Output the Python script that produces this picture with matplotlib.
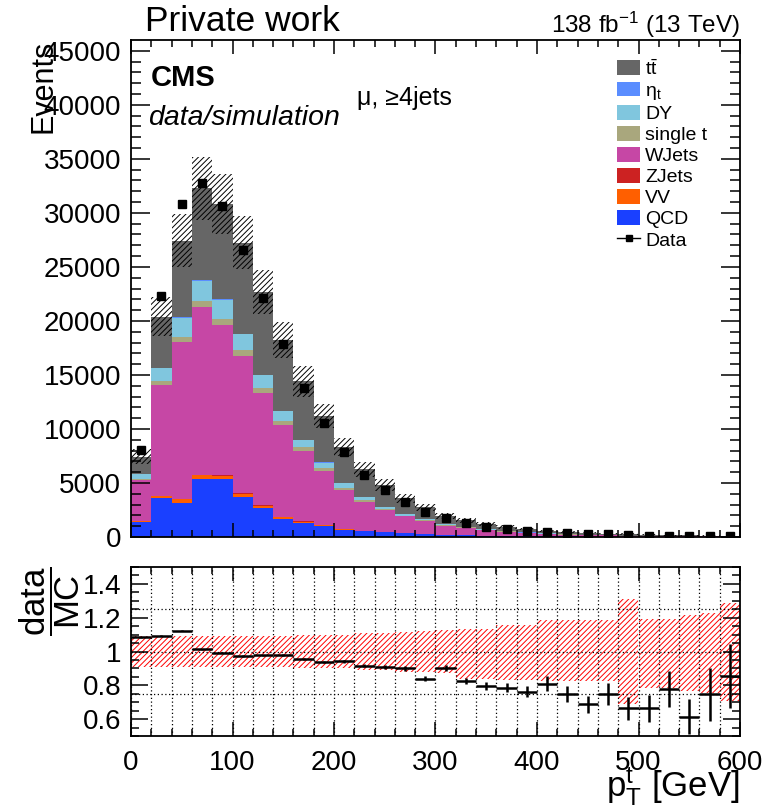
import numpy as np
import matplotlib
matplotlib.use("Agg")
import matplotlib.pyplot as plt
from matplotlib.patches import Patch
from matplotlib.lines import Line2D

plt.rcParams['font.family'] = ['Liberation Sans', 'DejaVu Sans']
plt.rcParams['mathtext.fontset'] = 'custom'
plt.rcParams['mathtext.rm'] = 'Liberation Sans'
plt.rcParams['mathtext.it'] = 'Liberation Sans:italic'
plt.rcParams['mathtext.bf'] = 'Liberation Sans:bold'
plt.rcParams['hatch.linewidth'] = 0.7

# binning: 30 bins of 20 GeV
edges = np.arange(0, 620, 20)

# stacked MC components (events per bin), bottom -> top
qcd = [1420, 3580, 3180, 5370, 5340, 3700, 2710, 1670, 1300, 1020, 650, 540, 430, 340, 250,
       190, 150, 120, 95, 75, 60, 50, 40, 32, 26, 22, 18, 15, 12, 10]
vv = [60, 200, 320, 330, 300, 300, 180, 140, 110, 85, 80, 45, 40, 30, 25,
      20, 16, 13, 10, 8, 7, 6, 5, 4, 3, 3, 2, 2, 2, 1]
zjets = [20, 40, 60, 60, 55, 50, 40, 30, 25, 20, 15, 12, 10, 8, 6,
         5, 4, 3, 3, 2, 2, 2, 1, 1, 1, 1, 1, 1, 1, 1]
wjets = [3800, 10260, 14530, 15510, 13940, 12710, 10430, 8530, 6530, 4990, 3600, 2670, 2020, 1540, 1240,
         835, 690, 515, 380, 285, 230, 170, 135, 105, 80, 65, 55, 42, 35, 28]
single_t = [40, 370, 460, 580, 560, 560, 470, 370, 340, 250, 220, 160, 90, 70, 60,
            45, 38, 30, 24, 19, 15, 12, 10, 8, 7, 6, 5, 4, 3, 3]
dy = [490, 1170, 1750, 1880, 1730, 1450, 1140, 900, 680, 520, 400, 240, 160, 110, 90,
      70, 55, 42, 33, 26, 20, 16, 13, 10, 8, 7, 6, 5, 4, 3]
eta_t = [15, 40, 60, 70, 65, 55, 45, 35, 28, 22, 16, 12, 9, 7, 5,
         4, 3, 3, 2, 2, 1, 1, 1, 1, 1, 1, 1, 1, 1, 1]
ttbar = [1600, 4740, 7080, 8490, 8860, 8430, 7650, 6570, 5410, 4300, 3370, 2590, 2060, 1480, 1090,
         770, 615, 475, 400, 325, 245, 230, 195, 150, 125, 95, 85, 70, 60, 55]

data = [8080, 22320, 30790, 32740, 30590, 26540, 22160, 17840, 13790, 10530, 7860, 5740, 4390, 3230, 2320,
        1750, 1300, 955, 745, 565, 470, 365, 275, 232, 167, 133, 135, 86, 88, 87]
# data/MC error bars
ratio_err = [0.003, 0.003, 0.003, 0.003, 0.003, 0.004, 0.004, 0.005, 0.006, 0.007, 0.008, 0.01, 0.012, 0.014, 0.014,
             0.017, 0.018, 0.022, 0.028, 0.032, 0.044, 0.048, 0.05, 0.065, 0.068, 0.08, 0.107, 0.103, 0.155, 0.19]
# relative MC uncertainty (up / down)
unc_up = [0.09, 0.09, 0.09, 0.09, 0.09, 0.09, 0.09, 0.09, 0.1, 0.1, 0.1, 0.11, 0.11, 0.115, 0.12,
          0.125, 0.135, 0.135, 0.155, 0.155, 0.185, 0.185, 0.185, 0.185, 0.31, 0.195, 0.195, 0.215, 0.225, 0.285]
unc_dn = [0.09, 0.09, 0.09, 0.09, 0.09, 0.09, 0.09, 0.09, 0.1, 0.1, 0.1, 0.11, 0.11, 0.12, 0.12,
          0.125, 0.16, 0.16, 0.17, 0.17, 0.175, 0.175, 0.175, 0.175, 0.31, 0.215, 0.215, 0.235, 0.245, 0.29]

samples = [
    ("QCD", qcd, "#1a40ff"),
    ("VV", vv, "#ff5f00"),
    ("ZJets", zjets, "#cc2222"),
    ("WJets", wjets, "#c647a5"),
    ("single t", single_t, "#a9a77d"),
    ("DY", dy, "#80c6de"),
    (r"$\mathrm{\eta_{t}}$", eta_t, "#5a8dff"),
    (r"$\mathrm{t\bar{t}}$", ttbar, "#666666"),
]

centers = 0.5 * (edges[:-1] + edges[1:])
width = edges[1] - edges[0]

fig = plt.figure(figsize=(7.65, 8.1), dpi=100)
W, H = 765., 810.
ax = fig.add_axes([131/W, 1-537/H, (740-131)/W, (537-40)/H])
rax = fig.add_axes([131/W, 1-736/H, (740-131)/W, (736-567)/H])

bottom = np.zeros(len(centers))
for name, vals, col in samples:
    vals = np.array(vals, dtype=float)
    ax.stairs(bottom + vals, edges, baseline=bottom, fill=True, color=col, lw=0)
    bottom = bottom + vals
total = bottom

up = np.array(unc_up)
dn = np.array(unc_dn)
ax.bar(centers, total*(up+dn), bottom=total*(1-dn), width=width, fill=False,
       hatch='//////', edgecolor='black', linewidth=0)

ax.plot(centers, data, 's', color='black', markersize=6, zorder=5)

ax.set_xlim(0, 600)
ax.set_ylim(0, 46000)
ax.set_yticks(np.arange(0, 45001, 5000))
ax.set_yticks(np.arange(0, 46000, 1000), minor=True)
ax.set_xticks(np.arange(0, 601, 100))
ax.set_xticks(np.arange(0, 601, 20), minor=True)
ax.tick_params(axis='both', which='both', direction='in', top=True, right=True, labelbottom=False,
               labelsize=20, width=1.1)
ax.tick_params(axis='y', which='major', length=14, pad=7)
ax.tick_params(axis='y', which='minor', length=7)
ax.tick_params(axis='x', which='major', length=10)
ax.tick_params(axis='x', which='minor', length=5)
for s in ax.spines.values():
    s.set_linewidth(1.3)

# legend
handles = [Patch(facecolor=col, edgecolor='none') for _, _, col in samples[::-1]]
labels = [name for name, _, _ in samples[::-1]]
handles.append(Line2D([], [], color='black', marker='s', markersize=5, lw=1))
labels.append("Data")
ax.legend(handles, labels, loc='upper left', bbox_to_anchor=(617/W, 1-59/H),
          bbox_transform=fig.transFigure, frameon=False, fontsize=14,
          handlelength=1.2, handleheight=0.8, labelspacing=0.15, handletextpad=0.25,
          borderpad=0, borderaxespad=0)

fig.text(145/W, 1-31/H, "Private work", fontsize=25.5, ha='left', va='baseline')
fig.text(740/W, 1-33/H, r"138 fb$^{-1}$ (13 TeV)", fontsize=17.5, ha='right', va='baseline')
fig.text(151/W, 1-86/H, "CMS", fontsize=21, fontweight='bold', ha='left', va='baseline')
fig.text(148/W, 1-125/H, "data/simulation", fontsize=20.5, fontstyle='italic', ha='left', va='baseline')
fig.text(357/W, 1-105/H, "\u03bc, \u22654jets", fontsize=18, ha='left', va='baseline')
fig.text(44/W, 1-40/H, "Events", fontsize=22, rotation=90, ha='center', va='top')

# ratio panel
ratio = np.array(data) / total
rax.bar(centers, up+dn, bottom=1-dn, width=width, fill=False, hatch='//////',
        edgecolor='red', linewidth=0)
rax.errorbar(centers, ratio, xerr=width/2, yerr=ratio_err, fmt='none', ecolor='black',
             elinewidth=1.8, capsize=0, zorder=5)
for yv in (0.75, 1.0, 1.25):
    rax.axhline(yv, color='black', ls=(0, (1, 2)), lw=0.9)
rax.set_xlim(0, 600)
rax.set_ylim(0.5, 1.5)
rax.set_xticks(np.arange(0, 601, 100))
rax.set_xticks(np.arange(0, 601, 20), minor=True)
rax.set_yticks([0.6, 0.8, 1.0, 1.2, 1.4])
rax.set_yticklabels(["0.6", "0.8", "1", "1.2", "1.4"])
rax.set_yticks(np.arange(0.5, 1.501, 0.05), minor=True)
rax.grid(axis='x', which='both', color='black', ls=(0, (1, 2)), lw=0.9)
rax.tick_params(axis='both', which='both', direction='in', top=True, right=True, labelsize=20, width=1.1)
rax.tick_params(axis='y', which='major', length=12, pad=7)
rax.tick_params(axis='y', which='minor', length=6)
rax.tick_params(axis='x', which='major', length=10, pad=10)
rax.tick_params(axis='x', which='minor', length=5)
for s in rax.spines.values():
    s.set_linewidth(1.3)

fig.text(50/W, 1-566/H, r"$\dfrac{\mathrm{data}}{\mathrm{MC}}$", fontsize=25, rotation=90,
         ha='center', va='top')
fig.text(740/W, 1-797/H, r"$\mathrm{p}_{\mathrm{T}}^{\mathrm{t}}$ [GeV]", fontsize=25,
         ha='right', va='baseline')

fig.savefig("out.png", dpi=100)
